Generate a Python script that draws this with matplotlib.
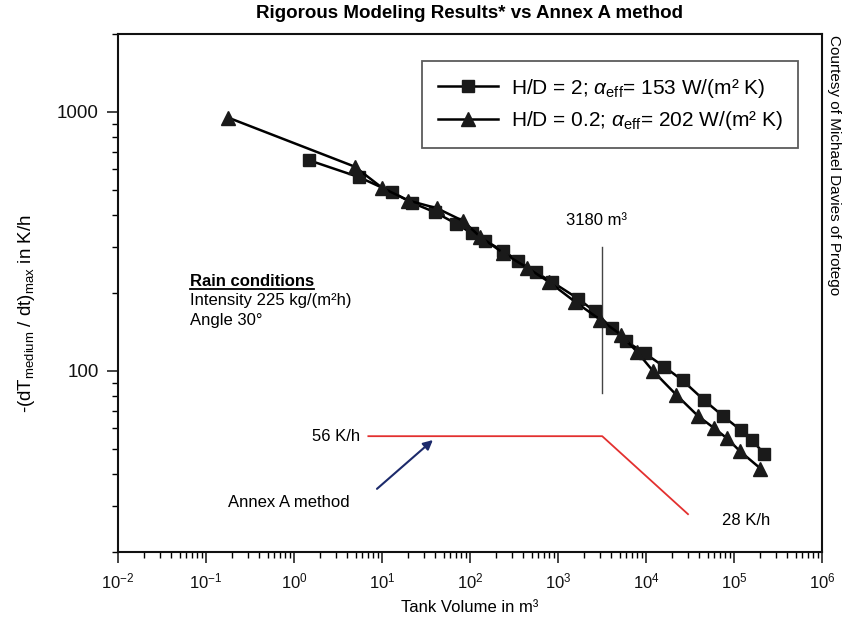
import matplotlib
matplotlib.use("Agg")
import matplotlib.pyplot as plt
from matplotlib.lines import Line2D

plt.rcParams['font.family'] = ['Liberation Sans', 'DejaVu Sans']
plt.rcParams['mathtext.fontset'] = 'custom'
plt.rcParams['mathtext.rm'] = 'Liberation Sans'
plt.rcParams['mathtext.it'] = 'Liberation Sans:italic'
plt.rcParams['mathtext.bf'] = 'Liberation Sans:bold'

# ---- data ----
hd2_volume = [1.5, 5.5, 13, 22, 40, 70, 105, 150, 240, 350, 560, 850, 1700, 2600,
              4100, 6000, 9700, 16000, 26000, 46000, 75000, 120000, 160000, 220000]
hd2_rate = [650, 560, 490, 446, 410, 370, 340, 318, 290, 267, 240, 221, 190, 170,
            146, 130, 117, 104, 92, 77, 67, 59, 54, 48]

hd02_volume = [0.18, 4.9, 10, 20, 42, 83, 130, 240, 450, 800, 1560, 3000, 5200, 8000,
               12000, 22000, 39000, 60000, 83000, 117000, 200000]
hd02_rate = [950, 615, 510, 455, 425, 380, 330, 285, 250, 220, 185, 158, 138, 118,
             100, 81, 67, 60, 55, 49, 42]

annex_volume = [7, 3180, 30000]
annex_rate = [56, 56, 28]

marker_volume = 3180
marker_rate_range = [82, 300]

hd2_label = 'H/D = 2; $\\alpha_{\\mathrm{eff}}$= 153 W/(m² K)'
hd02_label = 'H/D = 0.2; $\\alpha_{\\mathrm{eff}}$= 202 W/(m² K)'

xtick_exponents = [-2, -1, 0, 1, 2, 3, 4, 5, 6]
xtick_labels = ['10$^{%d}$' % e for e in xtick_exponents]
ytick_values = [100, 1000]
ytick_labels = ['100', '1000']

# ---- figure ----
W, H = 844, 618
fig = plt.figure(figsize=(W / 100, H / 100), dpi=100)
left, right, top, bottom = 118, 822, 34, 552
ax = fig.add_axes([left / W, 1 - bottom / H, (right - left) / W, (bottom - top) / H])

ax.set_xscale('log')
ax.set_yscale('log')
ax.set_xlim(1e-2, 1e6)
ax.set_ylim(20, 2000)

ax.plot(hd2_volume, hd2_rate, color='black', lw=1.8, marker='s', ms=8.5,
        mfc='#1a1a1a', mec='#1a1a1a', label=hd2_label, zorder=3)
ax.plot(hd02_volume, hd02_rate, color='black', lw=1.8, marker='^', ms=10.5,
        mfc='#1a1a1a', mec='#1a1a1a', label=hd02_label, zorder=3)

ax.plot(annex_volume, annex_rate, color='#e3302f', lw=1.3, zorder=2)
ax.plot([marker_volume, marker_volume], marker_rate_range, color='#444444', lw=1.0, zorder=2)

# ticks
ax.set_xticks([10.0 ** e for e in xtick_exponents])
ax.set_xticklabels(xtick_labels)
ax.set_yticks(ytick_values)
ax.set_yticklabels(ytick_labels)
ax.tick_params(axis='both', which='major', direction='out', length=8, width=1.1,
               labelsize=12, colors='#111111')
ax.tick_params(axis='y', which='major', labelsize=13.5, pad=6)
ax.tick_params(axis='both', which='minor', direction='out', length=4, width=1.0)
ax.tick_params(axis='y', which='minor', labelleft=False)
ax.tick_params(axis='x', which='major', pad=6)
for s in ax.spines.values():
    s.set_linewidth(1.5)
    s.set_color('#111111')

ax.set_xlabel('Tank Volume in m³', fontsize=12, labelpad=6)
ax.set_ylabel('-(dT$_{\\mathrm{medium}}$ / dt)$_{\\mathrm{max}}$ in K/h', fontsize=13.5)
ax.yaxis.set_label_coords(-(118 - 37) / (right - left), (bottom - 314) / (bottom - top))

fig.text((left + right) / 2 / W, 1 - 14 / H, 'Rigorous Modeling Results* vs Annex A method',
         ha='center', va='center', fontsize=13.5, fontweight='bold')

# legend
leg = ax.legend(loc='upper right',
                bbox_to_anchor=((798 - left) / (right - left), 1 - (61 - top) / (bottom - top)),
                fontsize=15, frameon=True, fancybox=False, edgecolor='#333333',
                handlelength=2.9, handletextpad=0.6, borderpad=0.75, labelspacing=0.45,
                borderaxespad=0)
leg.get_frame().set_linewidth(1.3)

# annotations
ax.text(3180 * 0.85, 380, '3180 m³', ha='center', va='center', fontsize=12)
ax.text(5.6, 56, '56 K/h', ha='right', va='center', fontsize=12)
ax.text(73000, 26.5, '28 K/h', ha='left', va='center', fontsize=12)
ax.text(0.178, 31, 'Annex A method', ha='left', va='center', fontsize=12)
ax.annotate('', xy=(40, 55), xytext=(8.3, 34.5),
            arrowprops=dict(arrowstyle='-|>', color='#1c2a6b', lw=1.5, mutation_scale=14))

rx = (190 - left) / (right - left)
t_rain = ax.text(rx, (bottom - 282) / (bottom - top), 'Rain conditions', transform=ax.transAxes,
                 ha='left', va='center', fontsize=12, fontweight='bold')
ax.text(rx, (bottom - 301) / (bottom - top), 'Intensity 225 kg/(m²h)', transform=ax.transAxes,
        ha='left', va='center', fontsize=12)
ax.text(rx, (bottom - 321) / (bottom - top), 'Angle 30°', transform=ax.transAxes,
        ha='left', va='center', fontsize=12)

fig.text(834 / W, 1 - 35 / H, 'Courtesy of Michael Davies of Protego', rotation=-90,
         ha='center', va='top', fontsize=11)

# underline for "Rain conditions"
fig.canvas.draw()
bb = t_rain.get_window_extent()
fig.add_artist(Line2D([bb.x0 / W, bb.x1 / W], [(bb.y0 + 1) / H, (bb.y0 + 1) / H],
                      transform=fig.transFigure, color='black', lw=1.3))

fig.savefig('out.png', dpi=100)
